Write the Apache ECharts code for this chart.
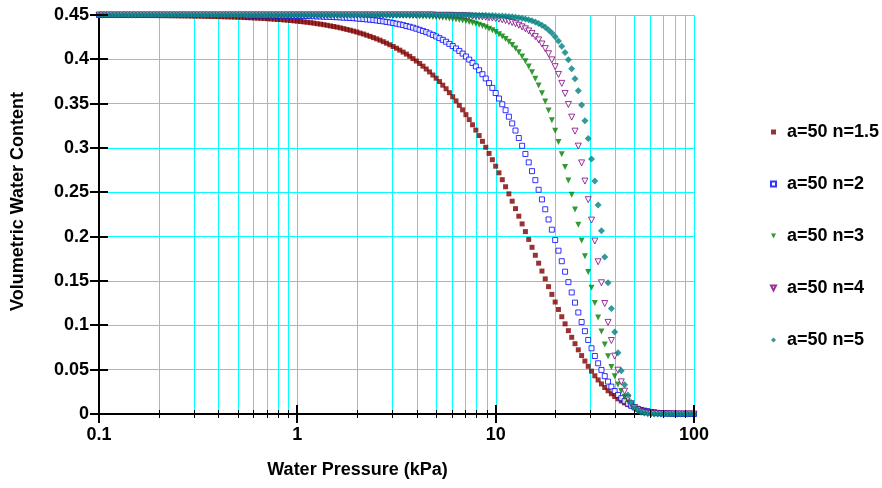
<!DOCTYPE html>
<html><head><meta charset="utf-8">
<script src="https://cdn.jsdelivr.net/npm/echarts@6/dist/echarts.min.js"></script>
<style>html,body{margin:0;padding:0;background:#fff}#c{width:882px;height:488px}</style>
</head><body><div id="c"></div>
<script>
// Water pressure (kPa), log-spaced sample points
const pressure = [
0.1,0.10391,0.10798,0.1122,0.11659,0.12115,0.12589,0.13082,0.13594,0.14125,
0.14678,0.15252,0.15849,0.16469,0.17113,0.17783,0.18478,0.19201,0.19953,0.20733,
0.21544,0.22387,0.23263,0.24173,0.25119,0.26102,0.27123,0.28184,0.29286,0.30432,
0.31623,0.3286,0.34145,0.35481,0.36869,0.38312,0.39811,0.41368,0.42987,0.44668,
0.46416,0.48232,0.50119,0.5208,0.54117,0.56234,0.58434,0.6072,0.63096,0.65564,
0.68129,0.70795,0.73564,0.76442,0.79433,0.8254,0.8577,0.89125,0.92612,0.96235,
1,1.0391,1.0798,1.122,1.1659,1.2115,1.2589,1.3082,1.3594,1.4125,
1.4678,1.5252,1.5849,1.6469,1.7113,1.7783,1.8478,1.9201,1.9953,2.0733,
2.1544,2.2387,2.3263,2.4173,2.5119,2.6102,2.7123,2.8184,2.9286,3.0432,
3.1623,3.286,3.4145,3.5481,3.6869,3.8312,3.9811,4.1368,4.2987,4.4668,
4.6416,4.8232,5.0119,5.208,5.4117,5.6234,5.8434,6.072,6.3096,6.5564,
6.8129,7.0795,7.3564,7.6442,7.9433,8.254,8.577,8.9125,9.2612,9.6235,
10,10.391,10.798,11.22,11.659,12.115,12.589,13.082,13.594,14.125,
14.678,15.252,15.849,16.469,17.113,17.783,18.478,19.201,19.953,20.733,
21.544,22.387,23.263,24.173,25.119,26.102,27.123,28.184,29.286,30.432,
31.623,32.86,34.145,35.481,36.869,38.312,39.811,41.368,42.987,44.668,
46.416,48.232,50.119,52.08,54.117,56.234,58.434,60.72,63.096,65.564,
68.129,70.795,73.564,76.442,79.433,82.54,85.77,89.125,92.612,96.235,
100
];

const thetaN15 = [
0.45,0.45,0.45,0.45,0.45,0.45,0.45,0.45,0.4496,0.4496,
0.4496,0.4496,0.4496,0.4495,0.4495,0.4495,0.4494,0.4494,0.4494,0.4493,
0.4493,0.4493,0.4492,0.4492,0.4491,0.4491,0.4490,0.4490,0.4489,0.4488,
0.4488,0.4487,0.4486,0.4485,0.4484,0.4483,0.4482,0.4481,0.4480,0.4479,
0.4478,0.4477,0.4475,0.4474,0.4472,0.4470,0.4469,0.4467,0.4465,0.4463,
0.4461,0.4458,0.4456,0.4453,0.4450,0.4448,0.4445,0.4442,0.4438,0.4434,
0.4431,0.4427,0.4422,0.4418,0.4413,0.4408,0.4402,0.4397,0.4391,0.4384,
0.4377,0.4370,0.4363,0.4355,0.4346,0.4337,0.4328,0.4318,0.4308,0.4296,
0.4285,0.4272,0.4259,0.4245,0.4231,0.4216,0.4199,0.4182,0.4164,0.4145,
0.4125,0.4104,0.4082,0.4059,0.4034,0.4008,0.3981,0.3953,0.3923,0.3891,
0.3858,0.3823,0.3787,0.3749,0.3709,0.3668,0.3624,0.3578,0.3531,0.3481,
0.3430,0.3376,0.3320,0.3262,0.3202,0.3140,0.3075,0.3008,0.2939,0.2868,
0.2795,0.2720,0.2643,0.2563,0.2483,0.2400,0.2316,0.2231,0.2144,0.2057,
0.1969,0.1880,0.1790,0.1701,0.1612,0.1524,0.1436,0.1349,0.1263,0.1179,
0.1097,0.1017,0.0940,0.0865,0.0793,0.0724,0.0659,0.0597,0.0538,0.0483,
0.0431,0.0384,0.0339,0.0299,0.0262,0.0228,0.0198,0.0171,0.0147,0.0125,
0.0106,0.0090,0.0075,0.0063,0.0052,0.0043,0.0036,0.0029,0.0024,0.0019,
0.0016,0.0012,0.0010,0.0008,0.0006,0.0005,0.0004,0.0003,0.0003,0.0002,
0.0002
];

const thetaN2 = [
0.45,0.45,0.45,0.45,0.45,0.45,0.45,0.45,0.45,0.45,
0.45,0.45,0.45,0.45,0.45,0.45,0.45,0.45,0.45,0.45,
0.45,0.45,0.45,0.45,0.45,0.45,0.45,0.45,0.45,0.45,
0.45,0.45,0.45,0.45,0.45,0.45,0.45,0.45,0.45,0.45,
0.45,0.45,0.45,0.45,0.45,0.4496,0.4496,0.4496,0.4496,0.4496,
0.4496,0.4495,0.4495,0.4494,0.4494,0.4493,0.4493,0.4492,0.4492,0.4491,
0.4490,0.4490,0.4488,0.4488,0.4487,0.4485,0.4484,0.4483,0.4481,0.4480,
0.4479,0.4477,0.4475,0.4473,0.4470,0.4469,0.4466,0.4464,0.4461,0.4457,
0.4454,0.4450,0.4447,0.4443,0.4438,0.4433,0.4428,0.4422,0.4416,0.4409,
0.4402,0.4394,0.4386,0.4376,0.4367,0.4357,0.4345,0.4333,0.4320,0.4307,
0.4291,0.4275,0.4258,0.4239,0.4220,0.4198,0.4174,0.4150,0.4123,0.4095,
0.4065,0.4032,0.3997,0.3960,0.3920,0.3877,0.3832,0.3784,0.3732,0.3678,
0.3620,0.3558,0.3493,0.3426,0.3353,0.3277,0.3197,0.3113,0.3025,0.2933,
0.2838,0.2739,0.2637,0.2529,0.2420,0.2309,0.2194,0.2079,0.1962,0.1842,
0.1723,0.1605,0.1487,0.1371,0.1256,0.1145,0.1037,0.0934,0.0835,0.0741,
0.0654,0.0572,0.0497,0.0427,0.0365,0.0309,0.0259,0.0215,0.0178,0.0145,
0.0116,0.0094,0.0074,0.0058,0.0045,0.0035,0.0027,0.0020,0.0016,0.0011,
0.0009,0.0006,0.0005,0.0003,0.0003,0.0002,0.0001,0.0001,0.0001,0.0001,
0
];

const thetaN3 = [
0.45,0.45,0.45,0.45,0.45,0.45,0.45,0.45,0.45,0.45,
0.45,0.45,0.45,0.45,0.45,0.45,0.45,0.45,0.45,0.45,
0.45,0.45,0.45,0.45,0.45,0.45,0.45,0.45,0.45,0.45,
0.45,0.45,0.45,0.45,0.45,0.45,0.45,0.45,0.45,0.45,
0.45,0.45,0.45,0.45,0.45,0.45,0.45,0.45,0.45,0.45,
0.45,0.45,0.45,0.45,0.45,0.45,0.45,0.45,0.45,0.45,
0.45,0.45,0.45,0.45,0.45,0.45,0.45,0.45,0.45,0.45,
0.45,0.45,0.45,0.45,0.45,0.45,0.45,0.45,0.45,0.45,
0.45,0.45,0.45,0.4496,0.4496,0.4496,0.4496,0.4496,0.4495,0.4494,
0.4494,0.4493,0.4492,0.4491,0.4490,0.4489,0.4488,0.4486,0.4484,0.4482,
0.4480,0.4478,0.4475,0.4472,0.4469,0.4465,0.4461,0.4456,0.4450,0.4445,
0.4438,0.4431,0.4421,0.4413,0.4402,0.4390,0.4376,0.4362,0.4345,0.4327,
0.4307,0.4283,0.4257,0.4229,0.4197,0.4162,0.4122,0.4079,0.4031,0.3978,
0.3919,0.3854,0.3782,0.3704,0.3618,0.3525,0.3424,0.3313,0.3195,0.3067,
0.2930,0.2786,0.2633,0.2473,0.2306,0.2133,0.1958,0.1779,0.1601,0.1425,
0.1253,0.1087,0.0931,0.0785,0.0652,0.0531,0.0425,0.0334,0.0258,0.0195,
0.0144,0.0104,0.0074,0.0051,0.0035,0.0023,0.0016,0.0010,0.0006,0.0004,
0.0003,0.0002,0.0001,0.0001,0,0,0,0,0,0,
0
];

const thetaN4 = [
0.45,0.45,0.45,0.45,0.45,0.45,0.45,0.45,0.45,0.45,
0.45,0.45,0.45,0.45,0.45,0.45,0.45,0.45,0.45,0.45,
0.45,0.45,0.45,0.45,0.45,0.45,0.45,0.45,0.45,0.45,
0.45,0.45,0.45,0.45,0.45,0.45,0.45,0.45,0.45,0.45,
0.45,0.45,0.45,0.45,0.45,0.45,0.45,0.45,0.45,0.45,
0.45,0.45,0.45,0.45,0.45,0.45,0.45,0.45,0.45,0.45,
0.45,0.45,0.45,0.45,0.45,0.45,0.45,0.45,0.45,0.45,
0.45,0.45,0.45,0.45,0.45,0.45,0.45,0.45,0.45,0.45,
0.45,0.45,0.45,0.45,0.45,0.45,0.45,0.45,0.45,0.45,
0.45,0.45,0.45,0.45,0.45,0.45,0.45,0.45,0.45,0.45,
0.45,0.45,0.4496,0.4496,0.4496,0.4496,0.4496,0.4495,0.4494,0.4493,
0.4492,0.4490,0.4488,0.4486,0.4484,0.4481,0.4478,0.4475,0.4470,0.4466,
0.4461,0.4454,0.4446,0.4437,0.4427,0.4415,0.4401,0.4385,0.4366,0.4344,
0.4320,0.4290,0.4256,0.4219,0.4173,0.4121,0.4063,0.3994,0.3917,0.3830,
0.3729,0.3615,0.3491,0.3348,0.3190,0.3021,0.2832,0.2627,0.2417,0.2187,
0.1951,0.1717,0.1480,0.1246,0.1033,0.0829,0.0653,0.0494,0.0362,0.0258,
0.0177,0.0116,0.0074,0.0045,0.0027,0.0016,0.0009,0.0005,0.0003,0.0002,
0.0001,0,0,0,0,0,0,0,0,0,
0
];

const thetaN5 = [
0.45,0.45,0.45,0.45,0.45,0.45,0.45,0.45,0.45,0.45,
0.45,0.45,0.45,0.45,0.45,0.45,0.45,0.45,0.45,0.45,
0.45,0.45,0.45,0.45,0.45,0.45,0.45,0.45,0.45,0.45,
0.45,0.45,0.45,0.45,0.45,0.45,0.45,0.45,0.45,0.45,
0.45,0.45,0.45,0.45,0.45,0.45,0.45,0.45,0.45,0.45,
0.45,0.45,0.45,0.45,0.45,0.45,0.45,0.45,0.45,0.45,
0.45,0.45,0.45,0.45,0.45,0.45,0.45,0.45,0.45,0.45,
0.45,0.45,0.45,0.45,0.45,0.45,0.45,0.45,0.45,0.45,
0.45,0.45,0.45,0.45,0.45,0.45,0.45,0.45,0.45,0.45,
0.45,0.45,0.45,0.45,0.45,0.45,0.45,0.45,0.45,0.45,
0.45,0.45,0.45,0.45,0.45,0.45,0.45,0.45,0.45,0.45,
0.45,0.45,0.45,0.4496,0.4496,0.4496,0.4496,0.4496,0.4495,0.4493,
0.4492,0.4490,0.4488,0.4485,0.4482,0.4479,0.4475,0.4470,0.4463,0.4455,
0.4446,0.4434,0.4421,0.4405,0.4385,0.4361,0.4332,0.4297,0.4256,0.4207,
0.4147,0.4077,0.3994,0.3895,0.3780,0.3646,0.3486,0.3308,0.3108,0.2875,
0.2627,0.2358,0.2067,0.1772,0.1480,0.1190,0.0925,0.0691,0.0489,0.0331,
0.0213,0.0129,0.0074,0.0040,0.0020,0.0010,0.0005,0.0002,0.0001,0,
0,0,0,0,0,0,0,0,0,0,
0
];

const seriesNames = ['a=50 n=1.5', 'a=50 n=2', 'a=50 n=3', 'a=50 n=4', 'a=50 n=5'];
const seriesValues = [thetaN15, thetaN2, thetaN3, thetaN4, thetaN5];

const yTickValues = [0, 0.05, 0.1, 0.15, 0.2, 0.25, 0.3, 0.35, 0.4, 0.45];
const xMajorTicks = [0.1, 1, 10, 100];
const xMinorTicks = [0.2,0.3,0.4,0.5,0.6,0.7,0.8,0.9, 2,3,4,5,6,7,8,9, 20,30,40,50,60,70,80,90];
const xGridValues = [0.2,0.3,0.4,0.5,0.6,0.7,0.8,0.9,1, 2,3,4,5,6,7,8,9,10, 20,30,40,50,60,70,80,90,100];

const FONT = '"Liberation Sans", Arial, Helvetica, sans-serif';
const DOWN_TRIANGLE = 'path://M0,0L10,0L5,10Z';
const markerStyles = [
  { symbol: 'rect', legendIcon: 'rect', size: 5, rotate: 0, itemStyle: { color: '#800000' } },
  { symbol: 'rect', legendIcon: 'rect', size: 5, rotate: 0, itemStyle: { color: '#ffffff', borderColor: '#0000ff', borderWidth: 1 } },
  { symbol: 'triangle', legendIcon: DOWN_TRIANGLE, size: 6, rotate: 180, itemStyle: { color: '#008000' } },
  { symbol: 'triangle', legendIcon: DOWN_TRIANGLE, size: 6, rotate: 180, itemStyle: { color: '#ffffff', borderColor: '#800080', borderWidth: 1 } },
  { symbol: 'diamond', legendIcon: 'diamond', size: 7, rotate: 0, itemStyle: { color: '#008080' } }
];

function toPairs(ys) { return pressure.map((x, i) => [x, ys[i]]); }

const dataSeries = seriesNames.map((name, i) => ({
  type: 'scatter',
  name: name,
  data: toPairs(seriesValues[i]),
  symbol: markerStyles[i].symbol,
  symbolSize: markerStyles[i].size,
  symbolRotate: markerStyles[i].rotate,
  itemStyle: markerStyles[i].itemStyle,
  clip: false,
  silent: true,
  z: 3
}));

// crisp vertical grid lines at log positions (through the axis scale)
function vGridItem(params, api) {
  const v = api.value(0);
  const top = api.coord([v, 0.45]);
  const bot = api.coord([v, 0]);
  const x = Math.round(top[0]) + 0.5;
  return { type: 'line', shape: { x1: x, y1: top[1], x2: x, y2: bot[1] - 1 },
           style: { stroke: '#00ffff', lineWidth: 1 } };
}
function xTickItem(halfLen, width) {
  return function (params, api) {
    const p = api.coord([api.value(0), 0]);
    const x = width % 2 ? Math.round(p[0]) + 0.5 : Math.round(p[0]);
    return { type: 'line', shape: { x1: x, y1: p[1] - halfLen, x2: x, y2: p[1] + halfLen },
             style: { stroke: '#000', lineWidth: width } };
  };
}
function yTickItem(params, api) {
  const p = api.coord([0.1, api.value(1)]);
  const y = Math.round(p[1]);
  return { type: 'line', shape: { x1: p[0] - 9, y1: y, x2: p[0] + 9, y2: y },
           style: { stroke: '#000', lineWidth: 2 } };
}

const helperSeries = [
  { type: 'custom', name: '_vgrid', data: xGridValues.map(v => [v, 0]), encode: { x: 0, y: 1 },
    renderItem: vGridItem, silent: true, clip: false, z: 1 },
  { type: 'custom', name: '_xminor', data: xMinorTicks.map(v => [v, 0]), encode: { x: 0, y: 1 },
    renderItem: xTickItem(4, 1), silent: true, clip: false, z: 5 },
  { type: 'custom', name: '_xmajor', data: xMajorTicks.map(v => [v, 0]), encode: { x: 0, y: 1 },
    renderItem: xTickItem(9, 2), silent: true, clip: false, z: 5 },
  { type: 'custom', name: '_yticks', data: yTickValues.map(v => [0.1, v]), encode: { x: 0, y: 1 },
    renderItem: yTickItem, silent: true, clip: false, z: 5 }
];

const legendData = seriesNames.map((name, i) => ({
  name: name,
  icon: markerStyles[i].legendIcon
}));

const chart = echarts.init(document.getElementById('c'), null, { renderer: 'canvas' });
chart.setOption({
  animation: false,
  backgroundColor: '#ffffff',
  grid: { left: 99, right: 188, top: 15, bottom: 74, containLabel: false },
  xAxis: {
    type: 'log', logBase: 10, min: 0.1, max: 100,
    axisLine: { show: true, lineStyle: { color: '#000', width: 2 } },
    axisTick: { show: false },
    splitLine: { show: false },
    minorTick: { show: false },
    axisLabel: { margin: 12, color: '#000', fontSize: 18, fontWeight: 'bold', fontFamily: FONT }
  },
  yAxis: {
    type: 'value', min: 0, max: 0.45, interval: 0.05,
    axisLine: { show: true, onZero: false, lineStyle: { color: '#000', width: 2 } },
    axisTick: { show: false },
    splitLine: { show: true, lineStyle: { color: '#00ffff', width: 1 } },
    axisLabel: { margin: 10, color: '#000', fontSize: 18, fontWeight: 'bold', fontFamily: FONT }
  },
  legend: {
    data: legendData,
    orient: 'vertical', left: 765, top: 118,
    itemWidth: 5, itemHeight: 5, itemGap: 34,
    selectedMode: false,
    formatter: name => '{gap|}' + name,
    textStyle: { color: '#000', fontSize: 18, fontWeight: 'bold', fontFamily: FONT,
                 rich: { gap: { width: 6 } } }
  },
  graphic: [
    { type: 'text', x: 18.5, y: 201.5, rotation: Math.PI / 2,
      style: { text: 'Volumetric Water Content', font: 'bold 18px ' + FONT, fill: '#000',
               align: 'center', verticalAlign: 'middle', textAlign: 'center', textVerticalAlign: 'middle' } },
    { type: 'text', x: 357.5, y: 470,
      style: { text: 'Water Pressure (kPa)', font: 'bold 18px ' + FONT, fill: '#000',
               align: 'center', verticalAlign: 'middle', textAlign: 'center', textVerticalAlign: 'middle' } }
  ],
  series: dataSeries.concat(helperSeries)
});
</script>
</body></html>
